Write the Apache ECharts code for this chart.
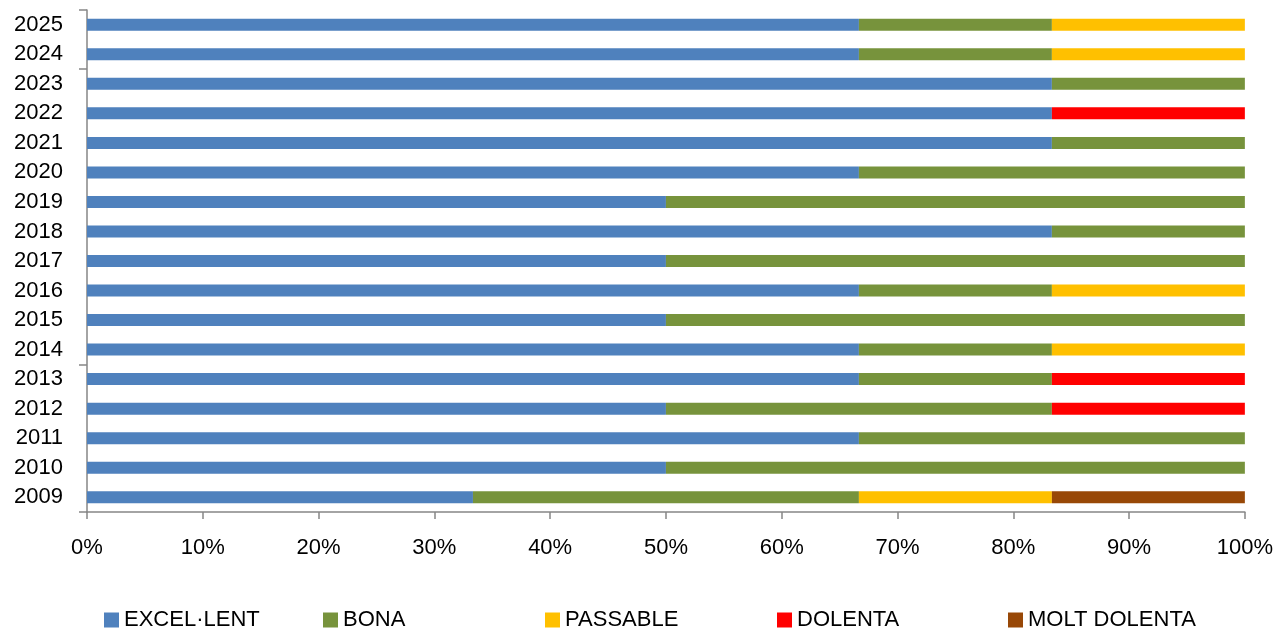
<!DOCTYPE html>
<html>
<head>
<meta charset="utf-8">
<script src="https://cdn.jsdelivr.net/npm/echarts@6/dist/echarts.min.js"></script>
<style>
  html, body { margin: 0; padding: 0; background: #fff; }
  #chart { width: 1276px; height: 628px; }
</style>
</head>
<body>
<div id="chart"></div>
<script>
// years, bottom to top
const years = ['2009', '2010', '2011', '2012', '2013', '2014', '2015', '2016', '2017',
  '2018', '2019', '2020', '2021', '2022', '2023', '2024', '2025']

// vots per any (6 per any)
const excellent = [2, 3, 4, 3, 4, 4, 3, 4, 3, 5, 3, 4, 5, 5, 5, 4, 4]
const bona = [2, 3, 2, 2, 1, 1, 3, 1, 3, 1, 3, 2, 1, 0, 1, 1, 1]
const passable = [1, 0, 0, 0, 0, 1, 0, 1, 0, 0, 0, 0, 0, 0, 0, 1, 1]
const dolenta = [0, 0, 0, 1, 1, 0, 0, 0, 0, 0, 0, 0, 0, 1, 0, 0, 0]
const moltDolenta = [1, 0, 0, 0, 0, 0, 0, 0, 0, 0, 0, 0, 0, 0, 0, 0, 0]

const xTicks = [0, 10, 20, 30, 40, 50, 60, 70, 80, 90, 100]

const groups = [
  { name: 'EXCEL·LENT', data: excellent, color: '#4F81BD' },
  { name: 'BONA', data: bona, color: '#77933C' },
  { name: 'PASSABLE', data: passable, color: '#FFC000' },
  { name: 'DOLENTA', data: dolenta, color: '#FF0000' },
  { name: 'MOLT DOLENTA', data: moltDolenta, color: '#984807' }
]
// legend slot left edges (Excel spaces legend entries evenly)
const legendLeft = [99, 318, 540, 772, 1003]

// 100% stacked: share of each year's total
const totals = years.map((y, i) => groups.reduce((s, g) => s + g.data[i], 0))

const font = '"Liberation Sans", Arial, sans-serif'
const axisColor = '#868686'
const chart = echarts.init(document.getElementById('chart'))

chart.setOption({
  animation: false,
  grid: { left: 87, right: 30, top: 10, bottom: 116 },
  legend: groups.map((g, i) => ({
    left: legendLeft[i],
    top: 604,
    itemWidth: 15,
    itemHeight: 15,
    itemGap: 8,
    icon: 'rect',
    textStyle: { fontFamily: font, fontSize: 22, color: '#000' },
    data: [g.name]
  })),
  xAxis: {
    type: 'value',
    min: xTicks[0],
    max: xTicks[xTicks.length - 1],
    interval: 10,
    splitLine: { show: false },
    axisLine: { show: true, lineStyle: { color: axisColor, width: 1.5 } },
    axisTick: { show: true, length: 7, lineStyle: { color: axisColor, width: 1.5 } },
    axisLabel: {
      formatter: '{value}%',
      margin: 25,
      fontFamily: font,
      fontSize: 22,
      color: '#000'
    }
  },
  yAxis: {
    type: 'category',
    data: years,
    axisLine: { show: true, lineStyle: { color: axisColor, width: 1.5 } },
    axisTick: {
      show: true,
      length: 8,
      interval: idx => idx === 0 || idx % 10 === 5,
      lineStyle: { color: axisColor, width: 1.5 }
    },
    axisLabel: {
      margin: 24,
      fontFamily: font,
      fontSize: 22,
      color: '#000'
    }
  },
  series: groups.map(g => ({
    name: g.name,
    type: 'bar',
    stack: 'total',
    barWidth: 12,
    itemStyle: { color: g.color },
    data: g.data.map((v, i) => v / totals[i] * 100)
  }))
})
</script>
</body>
</html>
